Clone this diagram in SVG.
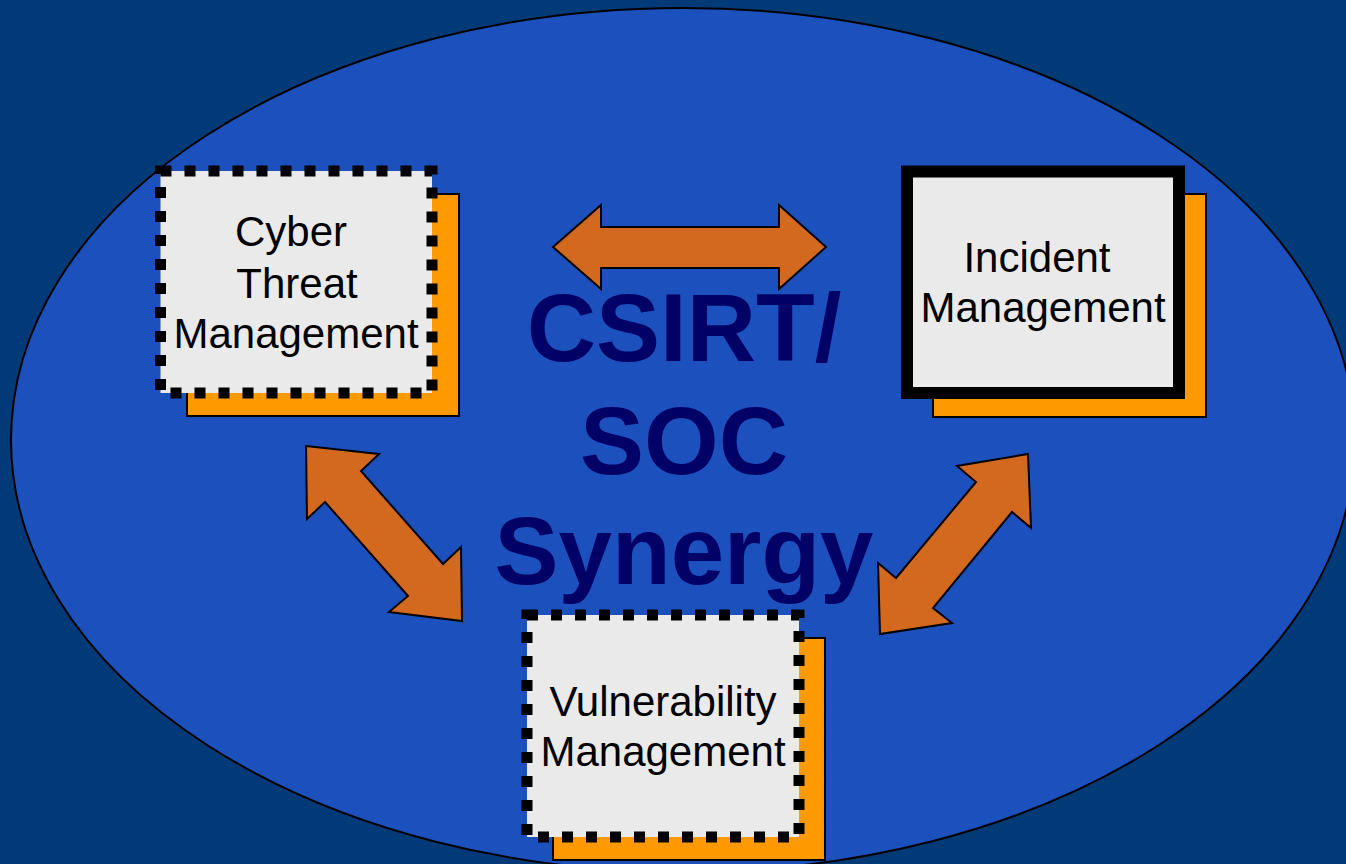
<svg xmlns="http://www.w3.org/2000/svg" width="1346" height="864" viewBox="0 0 1346 864">
  <style>
    .shadow { fill: #ff9900; stroke: #000; stroke-width: 2; }
    .card { fill: #eaeaea; }
    .dotted { stroke: #000; stroke-width: 11; stroke-dasharray: 11 13; }
    .solid { stroke: #000; stroke-width: 12; }
    .label { font-family: "Liberation Sans", Arial, sans-serif; font-size: 42px; fill: #000; text-anchor: middle; }
    .title { font-family: "Liberation Sans", Arial, sans-serif; font-size: 96px; font-weight: bold; fill: #000066; text-anchor: middle; }
    .arrow { fill: #d2691e; stroke: #000; stroke-width: 2; stroke-linejoin: miter; }
  </style>

  <!-- backdrop -->
  <rect x="0" y="0" width="1346" height="864" fill="#023a78"/>
  <ellipse cx="683" cy="440" rx="672" ry="432" fill="#1c50bd" stroke="#000" stroke-width="2"/>

  <!-- central title -->
  <g id="title">
    <text class="title" x="684" y="361">CSIRT/</text>
    <text class="title" x="684" y="474">SOC</text>
    <text class="title" x="684" y="584">Synergy</text>
  </g>

  <!-- connectors -->
  <g id="connectors">
    <polygon class="arrow" points="553,247 601,205 601,227 779,227 779,205 826,247 779,289 779,268 601,268 601,289"/>
    <polygon class="arrow" points="306,446 379,454 361,471 443,564 461,547 462,621 389,612 408,596 325,502 307,519"/>
    <polygon class="arrow" points="1028,454 1031,528 1012,512 933,608 952,623 880,634 878,563 896,578 976,482 957,466"/>
  </g>

  <!-- Cyber Threat Management -->
  <g id="cyber-threat">
    <rect class="shadow" x="187" y="194" width="272" height="222"/>
    <rect class="card" x="160.5" y="171" width="271.5" height="222"/>
    <rect class="dotted" x="160.5" y="171" width="271.5" height="222" fill="none"/>
    <text class="label" x="291" y="246">Cyber</text>
    <text class="label" x="297" y="298">Threat</text>
    <text class="label" x="296" y="348">Management</text>
  </g>

  <!-- Incident Management -->
  <g id="incident">
    <rect class="shadow" x="933" y="194" width="273" height="223"/>
    <rect class="card solid" x="907" y="171.5" width="272" height="221.5"/>
    <text class="label" x="1037" y="272">Incident</text>
    <text class="label" x="1043" y="322">Management</text>
  </g>

  <!-- Vulnerability Management -->
  <g id="vulnerability">
    <rect class="shadow" x="553" y="638" width="272" height="222"/>
    <rect class="card" x="527" y="615" width="272" height="222"/>
    <rect class="dotted" x="527" y="615" width="272" height="222" fill="none"/>
    <text class="label" x="663" y="716">Vulnerability</text>
    <text class="label" x="663" y="766">Management</text>
  </g>
</svg>
